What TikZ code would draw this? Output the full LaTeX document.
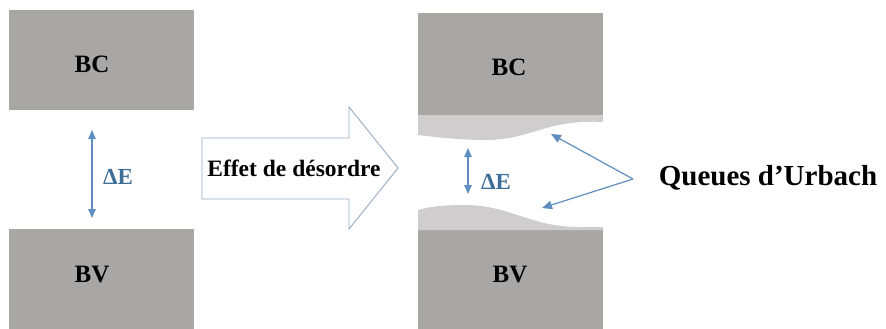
\documentclass[tikz,border=0pt]{standalone}
\usepackage{fontspec}
\setmainfont{Liberation Serif}
\usetikzlibrary{arrows.meta}
\definecolor{darkband}{HTML}{A9A6A6}
\definecolor{lightband}{HTML}{CFCDCD}
\definecolor{arrowblue}{HTML}{5E8FBE}
\definecolor{deltablue}{HTML}{3E6F98}
\definecolor{outlineblue}{HTML}{93ABC2}
\tikzset{
  band/.style={fill=darkband, draw=none, inner sep=0pt, minimum width=185pt},
  bandlabel/.style={font=\bfseries\fontsize{25}{25}\selectfont, inner sep=0pt},
  gaparrow/.style={draw=arrowblue, line width=1.1pt, {Triangle[length=9pt,width=7.5pt]}-{Triangle[length=9pt,width=7.5pt]}},
  tailarrow/.style={draw=arrowblue, line width=1.2pt, -{Triangle[length=10pt,width=8.5pt]}},
  deltalabel/.style={font=\bfseries\fontsize{23}{23}\selectfont, text=deltablue, inner sep=0pt},
}
\begin{document}
\begin{tikzpicture}[x=1pt,y=-1pt]
\useasboundingbox (0,0) rectangle (886,329);
% left panel
\node[band, minimum height=100pt] (bc1) at (101,60) {};
\node[band, minimum height=100pt] (bv1) at (101,279) {};
\node[bandlabel] (bc1t) at (92,64) {BC};
\node[bandlabel] (bv1t) at (92,275) {BV};
\coordinate (g1a) at (92,130);
\coordinate (g1b) at (92,218);
\draw[gaparrow] (g1a) -- (g1b);
\node[deltalabel] (de1) at (118,177) {ΔE};
% big arrow
\draw[draw=outlineblue, line width=0.9pt, fill=white]
  (202,138) -- (349,138) -- (349,107) -- (398,168) -- (349,229) -- (349,199) -- (202,199) -- cycle;
\node[font=\bfseries\fontsize{23.5}{23.5}\selectfont, inner sep=0pt] (effet) at (294,168) {Effet de désordre};
% right panel
\node[band, minimum height=102pt] (bc2) at (510.5,64) {};
\node[band, minimum height=99pt] (bv2) at (510.5,279.5) {};
\fill[lightband] (418,115) -- (603,115) -- (603,122)
  .. controls (545,119) and (530,141) .. (482,140)
  .. controls (455,139.5) and (435,137) .. (418,135) -- cycle;
\fill[lightband] (418,230) -- (418,210)
  .. controls (432,206) and (447,205) .. (463,205)
  .. controls (512,205) and (528,227) .. (580,227)
  -- (603,227) -- (603,230) -- cycle;
\node[bandlabel] (bc2t) at (509,67) {BC};
\node[bandlabel] (bv2t) at (510,275) {BV};
\coordinate (g2a) at (468,148);
\coordinate (g2b) at (468,194);
\draw[gaparrow] (g2a) -- (g2b);
\node[deltalabel] (de2) at (496,182) {ΔE};
% Urbach tails
\coordinate (src) at (633,179);
\coordinate (tt) at (551,134);
\coordinate (bt) at (542,208);
\draw[tailarrow] (src) -- (tt);
\draw[tailarrow] (src) -- (bt);
\node[font=\bfseries\fontsize{29}{29}\selectfont, inner sep=0pt] (urb) at (768,178) {Queues d’Urbach};
\end{tikzpicture}
\end{document}
